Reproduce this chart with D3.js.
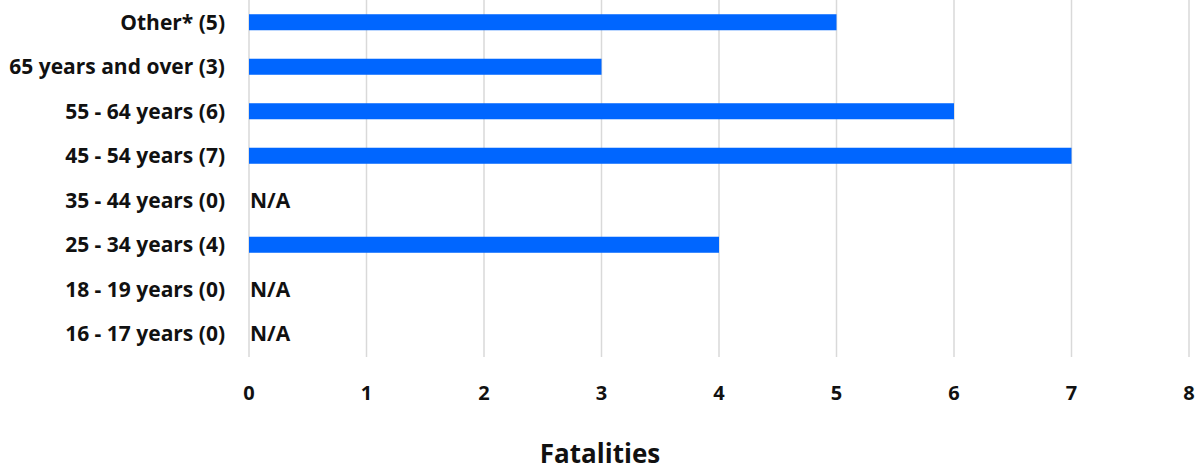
<!DOCTYPE html>
<html>
<head>
<meta charset="utf-8">
<script src="https://cdn.jsdelivr.net/npm/d3@7"></script>
<style>
  body { margin: 0; background: #fff; }
  text { font-family: "Open Sans", sans-serif; font-weight: bold; fill: #111; }
</style>
</head>
<body>
<script>
// age groups, top to bottom
var categories = ["Other* (5)", "65 years and over (3)", "55 - 64 years (6)", "45 - 54 years (7)",
                  "35 - 44 years (0)", "25 - 34 years (4)", "18 - 19 years (0)", "16 - 17 years (0)"];
var fatalities = [5, 3, 6, 7, 0, 4, 0, 0];
var xTicks = [0, 1, 2, 3, 4, 5, 6, 7, 8];

var width = 1200, height = 470;
var margin = {top: 0, left: 249, right: 11, bottom: 114};

var svg = d3.select("body").append("svg")
    .attr("width", width)
    .attr("height", height);

var x = d3.scaleLinear().domain([0, 8]).range([margin.left, width - margin.right]);
var y = d3.scaleBand().domain(categories).range([margin.top, height - margin.bottom])
    .paddingInner(0.64).paddingOuter(0.32);

// vertical grid lines
svg.append("g").selectAll("line")
    .data(xTicks)
    .enter().append("line")
    .attr("x1", function(d) { return x(d); })
    .attr("x2", function(d) { return x(d); })
    .attr("y1", 0)
    .attr("y2", 357)
    .attr("stroke", "#d9d9d9")
    .attr("stroke-width", 1.5);

// bars
svg.append("g").selectAll("rect")
    .data(categories)
    .enter().append("rect")
    .attr("x", x(0))
    .attr("y", function(d) { return y(d); })
    .attr("width", function(d, i) { return x(fatalities[i]) - x(0); })
    .attr("height", y.bandwidth())
    .attr("fill", "#0066ff");

// N/A for empty groups
svg.append("g").selectAll("text")
    .data(categories.filter(function(d, i) { return fatalities[i] === 0; }))
    .enter().append("text")
    .attr("x", x(0) + 1)
    .attr("y", function(d) { return y(d) + y.bandwidth() / 2; })
    .attr("dy", "0.35em")
    .attr("font-size", 21)
    .text("N/A");

// category labels
svg.append("g").selectAll("text")
    .data(categories)
    .enter().append("text")
    .attr("x", 225)
    .attr("y", function(d) { return y(d) + y.bandwidth() / 2; })
    .attr("dy", "0.35em")
    .attr("text-anchor", "end")
    .attr("font-size", 21)
    .text(function(d) { return d; });

// x tick labels
svg.append("g").selectAll("text")
    .data(xTicks)
    .enter().append("text")
    .attr("x", function(d) { return x(d); })
    .attr("y", 393)
    .attr("dy", "0.35em")
    .attr("text-anchor", "middle")
    .attr("font-size", 20)
    .text(function(d) { return d; });

// axis title
svg.append("text")
    .attr("x", 600)
    .attr("y", 454)
    .attr("dy", "0.35em")
    .attr("text-anchor", "middle")
    .attr("font-size", 26)
    .text("Fatalities");
</script>
</body>
</html>
